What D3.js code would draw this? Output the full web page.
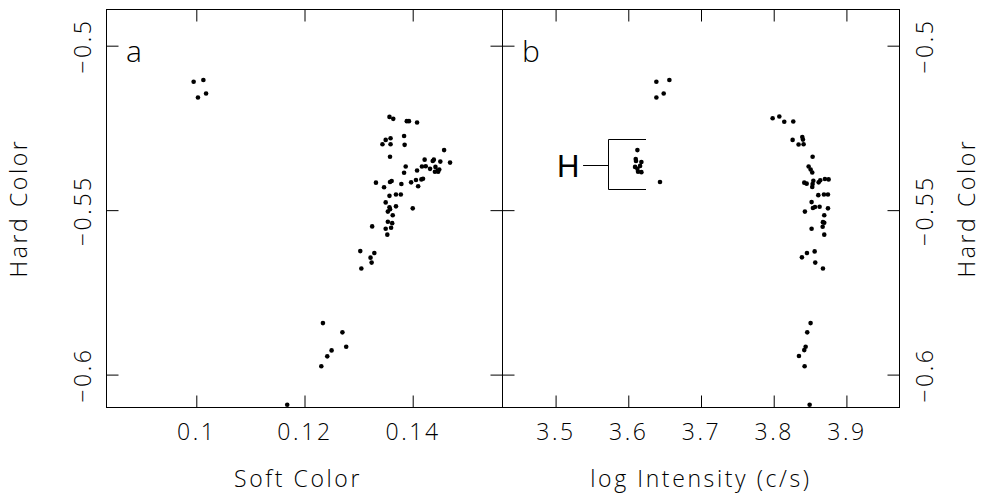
<!DOCTYPE html>
<html>
<head>
<meta charset="utf-8">
<script src="https://cdn.jsdelivr.net/npm/d3@7/dist/d3.min.js"></script>
<style>
  html, body { margin: 0; padding: 0; background: #fff; }
  svg text { font-family: "DejaVu Sans ExtraLight", "Open Sans", "DejaVu Sans", sans-serif; font-weight: 300; fill: #000; letter-spacing: 2.6px; }
  svg text.mark { letter-spacing: 0; }
</style>
</head>
<body>
<svg id="chart" width="982" height="494"></svg>
<script>
// Panel a: soft colour vs hard colour
const softColor = [
  0.0996, 0.1014, 0.1004, 0.1019,
  0.1358, 0.1365, 0.1390, 0.1394, 0.1409, 0.1385, 0.1351, 0.1345, 0.1360, 0.1360,
  0.1386, 0.1359, 0.1459, 0.1470, 0.1423, 0.1438, 0.1440, 0.1452, 0.1418, 0.1425,
  0.1433, 0.1443, 0.1447, 0.1442, 0.1450, 0.1448, 0.1388, 0.1409, 0.1385, 0.1417,
  0.1420, 0.1407, 0.1398, 0.1411, 0.1333, 0.1348, 0.1359, 0.1362, 0.1380, 0.1358,
  0.1370, 0.1379, 0.1351, 0.1370, 0.1358, 0.1359, 0.1355, 0.1401, 0.1364, 0.1355,
  0.1363, 0.1351, 0.1361, 0.1354, 0.1326, 0.1304, 0.1330, 0.1323, 0.1325, 0.1306,
  0.1235, 0.1271, 0.1278, 0.1251, 0.1243, 0.1232, 0.1169
];
const hardColorA = [
  -0.5111, -0.5106, -0.5159, -0.5147,
  -0.5218, -0.5224, -0.5231, -0.5231, -0.5235, -0.5276, -0.5288, -0.5301, -0.5283, -0.5301,
  -0.5303, -0.5339, -0.5319, -0.5357, -0.5348, -0.5352, -0.5348, -0.5354, -0.5369, -0.5368,
  -0.5376, -0.5370, -0.5382, -0.5385, -0.5378, -0.5385, -0.5369, -0.5381, -0.5388, -0.5408,
  -0.5406, -0.5410, -0.5417, -0.5429, -0.5418, -0.5432, -0.5416, -0.5413, -0.5422, -0.5458,
  -0.5454, -0.5454, -0.5478, -0.5490, -0.5493, -0.5499, -0.5506, -0.5496, -0.5517, -0.5537,
  -0.5541, -0.5558, -0.5555, -0.5576, -0.5551, -0.5626, -0.5632, -0.5646, -0.5661, -0.5679,
  -0.5845, -0.5873, -0.5917, -0.5928, -0.5946, -0.5976, -0.6093
];

// Panel b: log intensity vs hard colour
const logIntensity = [
  3.6393, 3.6572, 3.6393, 3.6494,
  3.6132, 3.6109, 3.6113, 3.6187, 3.6100, 3.6169, 3.6132, 3.6187, 3.6141, 3.6443,
  3.7992, 3.8084, 3.8152, 3.8276, 3.8267, 3.8400, 3.8409, 3.8349, 3.8418, 3.8542,
  3.8487, 3.8515, 3.8537, 3.8427, 3.8460, 3.8542, 3.8552, 3.8625, 3.8647, 3.8711,
  3.8762, 3.8537, 3.8620, 3.8698, 3.8753, 3.8528, 3.8546, 3.8574, 3.8638, 3.8753,
  3.8436, 3.8702, 3.8684, 3.8702, 3.8680, 3.8528, 3.8702, 3.8395, 3.8464, 3.8570,
  3.8578, 3.8684,
  3.8514, 3.8468, 3.8446, 3.8427, 3.8354, 3.8432, 3.8501
];
const hardColorB = [
  -0.5111, -0.5106, -0.5159, -0.5147,
  -0.5319, -0.5346, -0.5352, -0.5355, -0.5370, -0.5367, -0.5376, -0.5386, -0.5385, -0.5416,
  -0.5222, -0.5217, -0.5233, -0.5232, -0.5288, -0.5279, -0.5287, -0.5302, -0.5301, -0.5339,
  -0.5369, -0.5378, -0.5387, -0.5418, -0.5421, -0.5422, -0.5412, -0.5417, -0.5411, -0.5407,
  -0.5408, -0.5431, -0.5456, -0.5454, -0.5454, -0.5477, -0.5495, -0.5492, -0.5491, -0.5496,
  -0.5506, -0.5517, -0.5538, -0.5540, -0.5552, -0.5558, -0.5576, -0.5645, -0.5632, -0.5627,
  -0.5661, -0.5679,
  -0.5845, -0.5873, -0.5917, -0.5927, -0.5945, -0.5976, -0.6093
];

// Tick positions
const softTicks = [0.1, 0.12, 0.14];
const intensityTicks = [3.5, 3.6, 3.7, 3.8, 3.9];
const hardTicks = [-0.6, -0.55, -0.5];

// "H" marker box in panel b (data units)
const hBox = { x0: 3.5729, x1: 3.6251, y0: -0.5286, y1: -0.5438, lead: 3.5385, labelX: 3.5179, labelY: -0.5401 };

const svg = d3.select("#chart");
const frameL = 106, frameM = 502, frameR = 899, frameT = 9, frameB = 407;
const tickLen = 12;
const fs = 23;

const xA = d3.scaleLinear().domain([0.0834, 0.1566]).range([frameL, frameM]);
const xB = d3.scaleLinear().domain([3.427, 3.973]).range([frameM, frameR]);
const y = d3.scaleLinear().domain([-0.61, -0.489]).range([frameB, frameT]);
const fmt = d3.format("~f");

function styleAxis(g) {
  g.select(".domain").remove();
  g.attr("font-family", null).attr("font-size", null);
  g.selectAll(".tick line").attr("stroke", "#000").attr("stroke-width", 1);
  g.selectAll(".tick text").attr("font-size", fs).attr("fill", "#000");
}

// Frames
[[frameL, frameM], [frameM, frameR]].forEach(([a, b]) => {
  svg.append("rect")
    .attr("x", a + 0.5).attr("y", frameT + 0.5)
    .attr("width", b - a).attr("height", frameB - frameT)
    .attr("fill", "none").attr("stroke", "#000").attr("stroke-width", 1);
});

// Horizontal axes
function horizontalAxes(scale, ticks) {
  svg.append("g").attr("transform", `translate(0.5,${frameB + 0.5})`)
    .call(d3.axisBottom(scale).tickValues(ticks).tickSize(-tickLen).tickPadding(16).tickFormat(fmt))
    .call(styleAxis);
  svg.append("g").attr("transform", `translate(0.5,${frameT + 0.5})`)
    .call(d3.axisTop(scale).tickValues(ticks).tickSize(-tickLen).tickFormat(""))
    .call(styleAxis);
}
horizontalAxes(xA, softTicks);
horizontalAxes(xB, intensityTicks);

// Vertical axes, labels rotated
function verticalAxis(x, gen, labelOffset) {
  const g = svg.append("g").attr("transform", `translate(${x + 0.5},0.5)`)
    .call(gen(y).tickValues(hardTicks).tickSize(-tickLen).tickFormat(""))
    .call(styleAxis);
  if (labelOffset !== null) {
    g.selectAll(".tick").append("text")
      .attr("transform", `translate(${labelOffset},0) rotate(-90)`)
      .attr("text-anchor", "middle")
      .attr("font-size", fs)
      .text(d => fmt(d));
  }
}
verticalAxis(frameL, d3.axisLeft, -16);
verticalAxis(frameM, d3.axisRight, null);
verticalAxis(frameM, d3.axisLeft, null);
verticalAxis(frameR, d3.axisRight, 33);

// Axis titles
svg.append("text").attr("x", 298).attr("y", 487).attr("text-anchor", "middle")
  .attr("font-size", fs).text("Soft Color");
svg.append("text").attr("x", 701).attr("y", 487).attr("text-anchor", "middle")
  .attr("font-size", fs).text("log Intensity (c/s)");
svg.append("text").attr("transform", `translate(27,${(frameT + frameB) / 2}) rotate(-90)`)
  .attr("text-anchor", "middle").attr("font-size", fs).text("Hard Color");
svg.append("text").attr("transform", `translate(975,${(frameT + frameB) / 2}) rotate(-90)`)
  .attr("text-anchor", "middle").attr("font-size", fs).text("Hard Color");

// Panel letters
svg.append("text").attr("x", 126).attr("y", 62).attr("font-size", 30).text("a");
svg.append("text").attr("x", 522).attr("y", 62).attr("font-size", 30).text("b");

// Points
const ptsA = softColor.map((v, i) => [v, hardColorA[i]]);
const ptsB = logIntensity.map((v, i) => [v, hardColorB[i]]);
svg.append("g").selectAll("circle").data(ptsA).join("circle")
  .attr("cx", d => xA(d[0])).attr("cy", d => y(d[1])).attr("r", 2.3).attr("fill", "#000");
svg.append("g").selectAll("circle").data(ptsB).join("circle")
  .attr("cx", d => xB(d[0])).attr("cy", d => y(d[1])).attr("r", 2.3).attr("fill", "#000");

// "H" bracket
const bx0 = Math.round(xB(hBox.x0)) + 0.5, bx1 = Math.round(xB(hBox.x1));
const by0 = Math.round(y(hBox.y0)) + 0.5, by1 = Math.round(y(hBox.y1)) + 0.5;
const bym = Math.round((by0 + by1) / 2) + 0.5;
svg.append("path")
  .attr("d", `M${bx1},${by0}H${bx0}V${by1}H${bx1}M${xB(hBox.lead)},${bym}H${bx0}`)
  .attr("fill", "none").attr("stroke", "#000").attr("stroke-width", 1);
svg.append("text").attr("class", "mark").attr("x", xB(hBox.labelX)).attr("y", y(hBox.labelY))
  .attr("text-anchor", "middle").attr("font-size", 31)
  .style("font-family", "'Liberation Sans', Arial, sans-serif").style("font-weight", 400)
  .text("H");
</script>
</body>
</html>
